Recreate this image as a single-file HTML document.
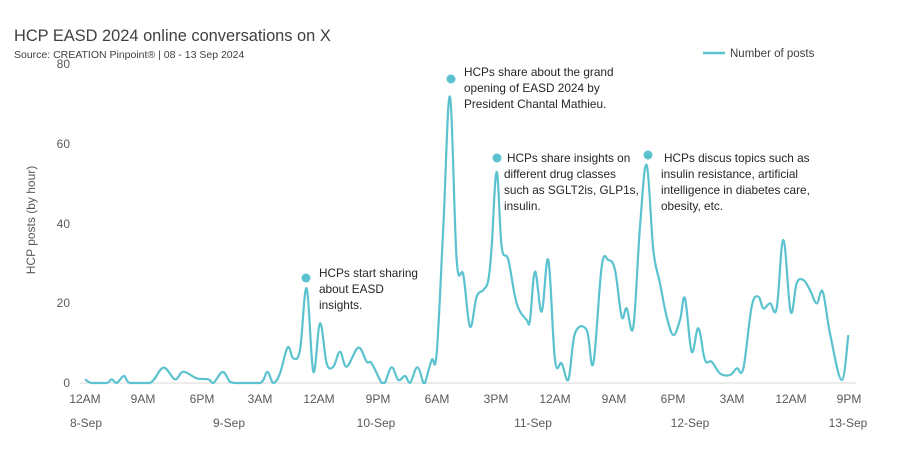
<!DOCTYPE html>
<html><head><meta charset="utf-8"><style>
body{margin:0;background:#fff;width:904px;height:446px;overflow:hidden;font-family:"Liberation Sans",sans-serif}
svg text{font-family:"Liberation Sans",sans-serif}
</style></head><body>
<svg id="s" width="904" height="446" xmlns="http://www.w3.org/2000/svg">
<text x="14" y="41" font-size="16.4" fill="#404040">HCP EASD 2024 online conversations on X</text>
<text x="14" y="58" font-size="10.5" fill="#404040">Source: CREATION Pinpoint® | 08 - 13 Sep 2024</text>
<line x1="703" y1="53" x2="725" y2="53" stroke="#5BC2CF" stroke-width="2.5"/>
<text x="730" y="57" font-size="11.5" fill="#404040">Number of posts</text>
<text transform="translate(35,220) rotate(-90)" text-anchor="middle" font-size="12" fill="#595959">HCP posts (by hour)</text>
<g font-size="12" fill="#595959" text-anchor="end">
<text x="70" y="68">80</text><text x="70" y="148">60</text><text x="70" y="228">40</text><text x="70" y="307">20</text><text x="70" y="387">0</text>
</g>
<line x1="80" y1="383" x2="856" y2="383" stroke="#d9d9d9" stroke-width="1"/>
<g font-size="12" fill="#595959" text-anchor="middle">
<text x="85" y="403">12AM</text><text x="143" y="403">9AM</text><text x="202" y="403">6PM</text><text x="260" y="403">3AM</text><text x="319" y="403">12AM</text><text x="378" y="403">9PM</text><text x="437" y="403">6AM</text><text x="496" y="403">3PM</text><text x="555" y="403">12AM</text><text x="614" y="403">9AM</text><text x="673" y="403">6PM</text><text x="732" y="403">3AM</text><text x="791" y="403">12AM</text><text x="849" y="403">9PM</text>
<text x="86" y="427">8-Sep</text><text x="229" y="427">9-Sep</text><text x="376" y="427">10-Sep</text><text x="533" y="427">11-Sep</text><text x="690" y="427">12-Sep</text><text x="848" y="427">13-Sep</text>
</g>
<path id="ln" fill="none" stroke="#5BC2CF" stroke-width="2.2" stroke-linejoin="round"/>
<g fill="#5BC2CF"><circle cx="306" cy="278" r="4.5"/><circle cx="451" cy="79" r="4.5"/><circle cx="497" cy="158" r="4.5"/><circle cx="648" cy="155" r="4.5"/></g>
<g font-size="11.8" fill="#262626">
<text x="319" y="277">HCPs start sharing</text><text x="319" y="293">about EASD</text><text x="319" y="309">insights.</text>
<text x="464" y="76">HCPs share about the grand</text><text x="464" y="92">opening of EASD 2024 by</text><text x="464" y="108">President Chantal Mathieu.</text>
<text x="507" y="162">HCPs share insights on</text><text x="504" y="178">different drug classes</text><text x="504" y="194">such as SGLT2is, GLP1s,</text><text x="504" y="210">insulin.</text>
<text x="664" y="162">HCPs discus topics such as</text><text x="661" y="178">insulin resistance, artificial</text><text x="661" y="194">intelligence in diabetes care,</text><text x="661" y="210">obesity, etc.</text>
</g>
</svg>
<script>
var a=[[75,388],[95,400],[140,400],[155,388],[170,400],[192,378],[210,400],[270,400],[310,353],[345,388],[370,365],[410,385],[445,388],[460,400],[488,366],[510,395],[530,400],[600,400],[622,366],[640,400],[660,370],[683,292],[700,325],[720,300],[740,115],[760,365],[780,220],[800,340],[820,350],[840,305],[860,350],[895,293],[920,335],[935,340],[965,400],[975,398],[995,352],[1015,390],[1035,378],[1050,400],[1072,352],[1090,400]];
var b=[[15,970],[35,900],[50,880],[70,500],[90,110],[110,600],[130,645],[150,800],[170,710],[190,690],[205,660],[215,560],[230,335],[245,560],[265,600],[290,730],[320,780],[330,780],[345,635],[365,755],[385,600],[405,900],[425,910],[445,960],[465,820],[500,810],[520,910],[545,620],[565,600],[585,630],[605,770],[620,745],[640,800],[660,500],[680,315],[700,570],[720,670],[740,770],[760,825],[780,780],[795,715],[815,875],[835,805],[855,900],[875,905],[900,940],[930,945],[950,925],[970,925],[995,740],[1015,710],[1030,745],[1050,730],[1070,745],[1090,540],[1112,755],[1130,670],[1150,660],[1170,690],[1190,730],[1208,695],[1230,820],[1265,960],[1285,825]];
var p=a.map(function(q){return[60+q[0]/3,Math.min(383,250+q[1]/3)]}).concat(b.map(function(q){return[420+q[0]/3,Math.min(383,60+q[1]/3)]}));
var d="M"+p[0][0]+","+p[0][1];
for(var i=0;i<p.length-1;i++){var p0=p[i-1]||p[i],p1=p[i],p2=p[i+1],p3=p[i+2]||p2,t=0.18;
var c1y=Math.min(383,p1[1]+(p2[1]-p0[1])*t),c2y=Math.min(383,p2[1]-(p3[1]-p1[1])*t);
d+=" C"+(p1[0]+(p2[0]-p0[0])*t)+","+c1y+" "+(p2[0]-(p3[0]-p1[0])*t)+","+c2y+" "+p2[0]+","+p2[1];}
document.getElementById("ln").setAttribute("d",d);
</script>
</body></html>
